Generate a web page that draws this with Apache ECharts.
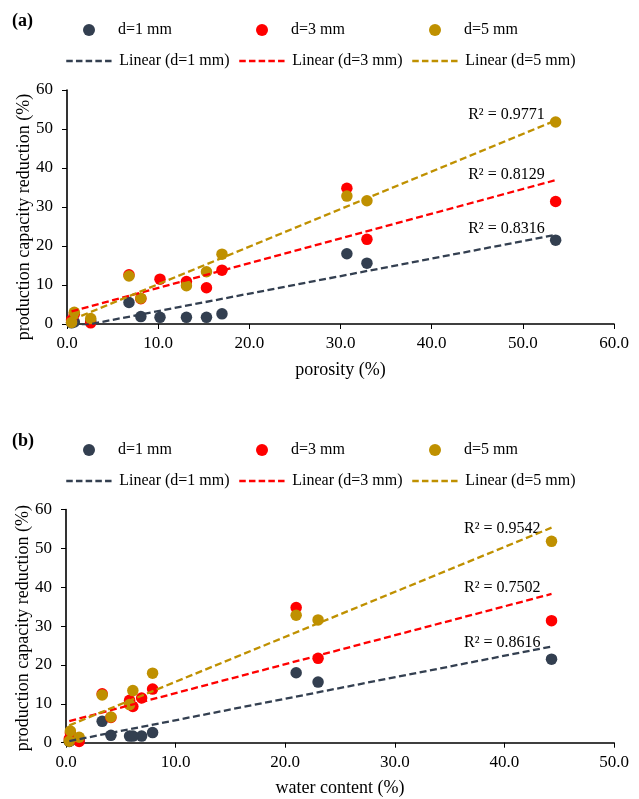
<!DOCTYPE html>
<html>
<head>
<meta charset="utf-8">
<script src="https://cdn.jsdelivr.net/npm/echarts@6/dist/echarts.min.js"></script>
<style>
  html, body { margin: 0; padding: 0; background: #ffffff; }
  #chart { width: 639px; height: 799px; }
</style>
</head>
<body>
<div id="chart"></div>
<script>
// Sample groups (particle size) and their linear trendlines
const groupNames = ['d=1 mm', 'd=3 mm', 'd=5 mm'];
const trendNames = ['Linear (d=1 mm)', 'Linear (d=3 mm)', 'Linear (d=5 mm)'];
const groupColors = ['#333F50', '#FF0000', '#BF9000'];

// Same samples measured two ways: porosity and water content (%)
const porosity     = [0.5, 0.8, 2.6, 6.8, 8.1, 10.2, 13.1, 15.3, 17.0, 30.7, 32.9, 53.6];
const waterContent = [0.3, 0.4, 1.2, 3.3, 4.1, 6.9, 5.8, 6.1, 7.9, 21.0, 23.0, 44.3];

// Production capacity reduction (%) for each particle size
const reductionD1 = [0.3, 0.5, 0.8, 5.5, 1.9, 1.7, 1.7, 1.7, 2.6, 18.0, 15.6, 21.5];
const reductionD3 = [1.0, 2.5, 0.3, 12.6, 6.5, 11.5, 10.9, 9.3, 13.8, 34.8, 21.7, 31.4];
const reductionD5 = [0.4, 3.0, 1.4, 12.3, 6.6, null, 9.8, 13.4, 17.9, 32.8, 31.6, 51.8];

// Coefficients of determination printed next to each trendline
const r2Porosity = ['0.8316', '0.8129', '0.9771'];
const r2Water    = ['0.8616', '0.7502', '0.9542'];

const reductions = [reductionD1, reductionD3, reductionD5];
const FONT = 'Liberation Serif';
const TREND_DASH = [7, 3.5];

// Ordinary least-squares fit, returned as the segment spanning the data
function linearTrend(xs, ys) {
  const pts = xs.map((x, i) => [x, ys[i]]).filter(p => p[1] != null);
  const n = pts.length;
  const mx = pts.reduce((s, p) => s + p[0], 0) / n;
  const my = pts.reduce((s, p) => s + p[1], 0) / n;
  let sxy = 0, sxx = 0;
  pts.forEach(p => { sxy += (p[0] - mx) * (p[1] - my); sxx += (p[0] - mx) ** 2; });
  const b = sxy / sxx, a = my - b * mx;
  const xMin = Math.min(...pts.map(p => p[0]));
  const xMax = Math.max(...pts.map(p => p[0]));
  return [[xMin, a + b * xMin], [xMax, a + b * xMax]];
}

function panelSeries(xs, r2, axisIndex, labelOffsets) {
  const out = [];
  reductions.forEach((ys, g) => {
    out.push({
      type: 'scatter', name: groupNames[g],
      xAxisIndex: axisIndex, yAxisIndex: axisIndex,
      symbol: 'circle', symbolSize: 11.5,
      itemStyle: { color: groupColors[g], opacity: 1 },
      data: xs.map((x, i) => [x, ys[i]]).filter(p => p[1] != null),
      z: 2 + g
    });
  });
  reductions.forEach((ys, g) => {
    const seg = linearTrend(xs, ys);
    out.push({
      type: 'line', name: trendNames[g],
      xAxisIndex: axisIndex, yAxisIndex: axisIndex,
      symbol: 'none', silent: true,
      itemStyle: { color: groupColors[g] },
      lineStyle: { color: groupColors[g], width: 2.3, type: TREND_DASH },
      data: seg,
      z: 6,
      markPoint: {
        symbol: 'circle', symbolSize: 0, silent: true,
        data: [{
          coord: seg[1],
          label: {
            show: true, position: 'left', distance: 11,
            offset: labelOffsets[g],
            formatter: 'R² = ' + r2[g],
            color: '#000', fontFamily: FONT, fontSize: 16
          }
        }]
      }
    });
  });
  return out;
}

// Legend columns: marker row centred on the dash icon of the row below
const legendColumns = [65, 238, 411];
const dashIconWidth = 48;
const dotSize = 12;

function markerLegendRow(top) {
  return groupNames.map((name, i) => ({
    data: [name], icon: 'circle',
    left: legendColumns[i] + (dashIconWidth - dotSize) / 2, top: top,
    padding: 0, itemWidth: dotSize, itemHeight: dotSize, itemGap: 0,
    selectedMode: false,
    textStyle: { fontFamily: FONT, fontSize: 16, color: '#000',
                 padding: [0, 0, 0, (dashIconWidth - dotSize) / 2] }
  }));
}
function trendLegendRow(top) {
  return trendNames.map((name, i) => ({
    data: [name],
    left: legendColumns[i], top: top,
    padding: 0, itemWidth: dashIconWidth, itemHeight: 10, itemGap: 0,
    selectedMode: false,
    itemStyle: { color: 'rgba(0,0,0,0)', borderWidth: 0, opacity: 0 },
    lineStyle: { width: 2.5, type: [6.5, 3.2] },
    textStyle: { fontFamily: FONT, fontSize: 16, color: '#000' }
  }));
}

function xAxisFor(grid, name, max) {
  return {
    type: 'value', gridIndex: grid, min: 0, max: max, interval: 10,
    name: name, nameLocation: 'middle', nameGap: 37,
    nameTextStyle: { fontFamily: FONT, fontSize: 18, color: '#000' },
    axisLine: { show: true, onZero: false, lineStyle: { color: '#000', width: 1.6 } },
    axisTick: { show: true, inside: false, length: 5, lineStyle: { color: '#000', width: 1 } },
    axisLabel: { fontFamily: FONT, fontSize: 17, color: '#000', margin: 11,
                 formatter: v => v.toFixed(1) },
    splitLine: { show: false }
  };
}
function yAxisFor(grid, shiftDown) {
  return {
    type: 'value', gridIndex: grid, min: 0, max: 60, interval: 10,
    name: 'production capacity reduction (%)', nameLocation: 'middle', nameGap: 34,
    nameMoveOverlap: false,
    nameTextStyle: { fontFamily: FONT, fontSize: 18, color: '#000',
                     padding: [0, shiftDown * 2, 0, 0] },
    axisLine: { show: true, onZero: false, lineStyle: { color: '#000', width: 1.6 } },
    axisTick: { show: true, inside: false, length: 5, lineStyle: { color: '#000', width: 1 } },
    axisLabel: { fontFamily: FONT, fontSize: 17, color: '#000', margin: 14 },
    splitLine: { show: false }
  };
}

const chart = echarts.init(document.getElementById('chart'), null, { renderer: 'canvas' });
chart.setOption({
  backgroundColor: '#ffffff',
  animation: false,
  title: [
    { text: '(a)', left: 12, top: 12, padding: 0, textStyle: { fontFamily: FONT, fontSize: 18, fontWeight: 'bold', color: '#000' } },
    { text: '(b)', left: 12, top: 432, padding: 0, textStyle: { fontFamily: FONT, fontSize: 18, fontWeight: 'bold', color: '#000' } }
  ],
  legend: [
    ...markerLegendRow(22),
    ...trendLegendRow(53),
    ...markerLegendRow(442),
    ...trendLegendRow(473)
  ],
  grid: [
    { left: 67, right: 25, top: 90, height: 234 },
    { left: 66, right: 25, top: 509.5, height: 233.2 }
  ],
  xAxis: [xAxisFor(0, 'porosity (%)', 60), xAxisFor(1, 'water content (%)', 50)],
  yAxis: [yAxisFor(0, 10), yAxisFor(1, 2)],
  series: [
    ...panelSeries(porosity, r2Porosity, 0, [[0, -6], [0, -5], [0, -6]]),
    ...panelSeries(waterContent, r2Water, 1, [[0, -4], [0, -6], [0, 1]])
  ]
});
</script>
</body>
</html>
